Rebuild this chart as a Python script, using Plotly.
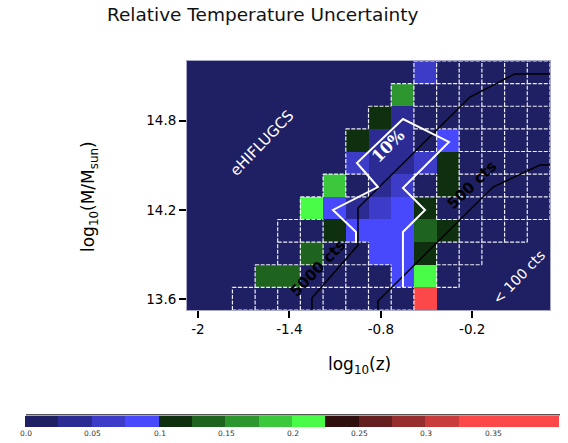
import plotly.graph_objects as go

# ---- binning (log10 z columns, log10 M rows) ----
x_edges = [-2.072, -1.923, -1.774, -1.625, -1.477, -1.328, -1.179, -1.030, -0.881,
           -0.732, -0.583, -0.434, -0.286, -0.137, 0.012, 0.161, 0.310]
y_edges = [13.528, 13.680, 13.832, 13.984, 14.136, 14.288, 14.441, 14.593, 14.745,
           14.897, 15.049, 15.201]

N = None
# relative temperature uncertainty per cell, rows from low mass (bottom) to high mass (top)
rel_unc = [
    [N, N, .012, .012, .012, .012, .012, .012, .012, .012, .36, N, N, N, N, N],
    [N, N, N, .138, .138, .012, .012, .012, .012, .088, .212, .012, N, N, N, N],
    [N, N, N, N, .012, .138, .012, .012, .088, .088, .112, .012, .012, N, N, N],
    [N, N, N, N, .012, .012, .112, .088, .088, .088, .138, .112, .012, .012, .012, N],
    [N, N, N, N, N, .212, .088, .037, .062, .088, .112, .012, .012, .012, .012, .012],
    [N, N, N, N, N, N, .188, .012, .037, .062, .012, .112, .012, .012, .012, .012],
    [N, N, N, N, N, N, N, .062, .037, .037, .062, .112, .012, .012, .012, .012],
    [N, N, N, N, N, N, N, .112, .037, .037, .012, .088, .012, .012, .012, .012],
    [N, N, N, N, N, N, N, N, .112, .037, .012, .012, .012, .012, .012, .012],
    [N, N, N, N, N, N, N, N, N, .162, .012, .012, .012, .012, .012, .012],
    [N, N, N, N, N, N, N, N, N, N, .062, .012, .012, .012, .012, .012],
]
# cells (col, row) that lie outside the survey grid
off_grid = [(10, 0)]

# colour levels, 0.025 wide each, from 0 to 0.4
level_colors = ["#1f1f63", "#2b2b93", "#3c3cc8", "#4848fc",
                "#0f300f", "#1e641e", "#2e962e", "#3cc83c", "#48fc48",
                "#300f0f", "#641e1e", "#962e2e", "#c83c3c",
                "#fc4848", "#fc4848", "#fc4848"]
cbar_ticks = [0.0, 0.05, 0.1, 0.15, 0.2, 0.25, 0.3, 0.35]
cbar_labels = ["0.0", "0.05", "0.1", "0.15", "0.2", "0.25", "0.3", "0.35"]

# count-rate contours
cts5000_x = [0.310, 0.080, -0.215, -0.281, -0.950, -0.950, -1.252, -1.252]
cts5000_y = [15.114, 15.114, 14.959, 14.892, 14.213, 13.964, 13.608, 13.521]
cts500_x = [0.310, 0.244, -0.064, -0.819, -0.819]
cts500_y = [14.502, 14.502, 14.354, 13.588, 13.521]

# outline of the 10% region
ten_x = [-0.963, -0.963, -1.114, -0.819, -0.957, -0.655, -0.353, -0.655, -0.510, -0.655, -0.655]
ten_y = [13.978, 14.052, 14.200, 14.354, 14.516, 14.811, 14.657, 14.348, 14.200, 14.052, 13.682]

FONT = "DejaVu Sans"
zmin, zmax = 0.0, 0.4

# discrete colour scale
nlev = len(level_colors)
colorscale = []
for k, c in enumerate(level_colors):
    colorscale.append([k / nlev, c])
    colorscale.append([(k + 1) / nlev, c])

nrow, ncol = len(rel_unc), len(rel_unc[0])


def val(i, j):
    if 0 <= i < ncol and 0 <= j < nrow:
        return rel_unc[j][i]
    return None


def in_grid(i, j):
    return val(i, j) is not None and (i, j) not in off_grid


def coloured(i, j):
    v = val(i, j)
    return v is not None and v >= 0.025


def draw_edge(a, b):
    return (in_grid(*a) or in_grid(*b)) and (not coloured(*a) or not coloured(*b))


gx, gy = [], []
for k in range(ncol + 1):
    for j in range(nrow):
        if draw_edge((k - 1, j), (k, j)):
            gx += [x_edges[k], x_edges[k], None]
            gy += [y_edges[j], y_edges[j + 1], None]
for k in range(nrow + 1):
    for i in range(ncol):
        if draw_edge((i, k - 1), (i, k)):
            gx += [x_edges[i], x_edges[i + 1], None]
            gy += [y_edges[k], y_edges[k], None]

# colour bar geometry (pixels in the page)
CB_LEFT, CB_RIGHT, CB_TOP, CB_H = 26, 560, 415.5, 11
CB_SHIFT = 13  # plotly places a horizontal bar this far left of its anchor
W, H = 568, 443

fig = go.Figure()
fig.add_trace(go.Heatmap(
    z=rel_unc, x=x_edges, y=y_edges, zmin=zmin, zmax=zmax,
    colorscale=colorscale, zsmooth=False, hoverinfo="skip",
    colorbar=dict(
        orientation="h", xref="container", yref="container",
        x=(CB_LEFT + CB_SHIFT) / W, xanchor="left", y=(H - CB_TOP) / H, yanchor="top",
        lenmode="pixels", len=CB_RIGHT - CB_LEFT, thickness=CB_H, xpad=0, ypad=0,
        outlinewidth=0, ticks="", showticklabels=False,
    ),
))
fig.add_trace(go.Scatter(x=gx, y=gy, mode="lines", hoverinfo="skip",
                         line=dict(color="rgba(250,250,255,0.95)", width=1.2, dash="4px,1.5px"),
                         showlegend=False, connectgaps=False))
for cx, cy in [(cts5000_x, cts5000_y), (cts500_x, cts500_y)]:
    fig.add_trace(go.Scatter(x=cx, y=cy, mode="lines", hoverinfo="skip", showlegend=False,
                             line=dict(color="black", width=1.5)))
fig.add_trace(go.Scatter(x=ten_x, y=ten_y, mode="lines", hoverinfo="skip", showlegend=False,
                         line=dict(color="white", width=2)))

annotations = [
    dict(x=-1.580, y=14.650, text="eHIFLUGCS", textangle=-46,
         font=dict(family=FONT, size=15, color="white")),
    dict(x=-0.747, y=14.630, text="<b>10%</b>", textangle=-45,
         font=dict(family="DejaVu Serif", size=16.5, color="white")),
    dict(x=-1.212, y=13.810, text="<b>5000 cts</b>", textangle=-46,
         font=dict(family=FONT, size=15, color="black")),
    dict(x=-0.202, y=14.368, text="<b>500 cts</b>", textangle=-44,
         font=dict(family=FONT, size=15, color="black")),
    dict(x=0.106, y=13.749, text="&lt; 100 cts", textangle=-46,
         font=dict(family=FONT, size=14, color="white")),
]
for a in annotations:
    a.update(xref="x", yref="y", showarrow=False, xanchor="center", yanchor="middle")

# colour bar tick labels, placed along the bar by value
for v, lab in zip(cbar_ticks, cbar_labels):
    px = CB_LEFT + (v - zmin) / (zmax - zmin) * (CB_RIGHT - CB_LEFT)
    annotations.append(dict(xref="paper", yref="paper", x=(px - 187) / 363,
                            y=(310 - (CB_TOP + CB_H + 7)) / 249, text=lab, showarrow=False,
                            xanchor="center", yanchor="middle",
                            font=dict(family=FONT, size=7.5, color="#333333")))

annotations += [
    dict(xref="paper", yref="paper", x=(359.5 - 187) / 363, y=(310 - 365) / 249,
         text="log<sub>10</sub>(z)", showarrow=False, xanchor="center", yanchor="middle",
         font=dict(family=FONT, size=17, color="black")),
    dict(xref="paper", yref="paper", x=(89 - 187) / 363, y=(310 - 197) / 249,
         text="log<sub>10</sub>(M/M<sub>sun</sub>)", textangle=-90, showarrow=False,
         xanchor="center", yanchor="middle",
         font=dict(family=FONT, size=17, color="black")),
]

axis_common = dict(showgrid=False, zeroline=False, ticks="outside", ticklen=7, tickwidth=2,
                   tickcolor="black", showline=True, linecolor="#a8a8c8", linewidth=1,
                   mirror=True, tickfont=dict(family=FONT, size=13.5, color="black"))

fig.update_layout(
    width=W, height=H,
    margin=dict(l=187, r=18, t=61, b=133),
    paper_bgcolor="white", plot_bgcolor="#1f1f63",
    title=dict(text="Relative Temperature Uncertainty", xref="container", yref="container",
               x=262.7 / W, y=1 - 15 / H, xanchor="center", yanchor="middle",
               font=dict(family=FONT, size=18.5, color="#111111")),
    xaxis=dict(range=[x_edges[0], x_edges[-1]], tickvals=[-2, -1.4, -0.8, -0.2],
               ticktext=["-2", "-1.4", "-0.8", "-0.2"], **axis_common),
    yaxis=dict(range=[y_edges[0], y_edges[-1]], tickvals=[13.6, 14.2, 14.8],
               ticktext=["13.6", "14.2", "14.8"], **axis_common),
    annotations=annotations,
    shapes=[dict(type="line", xref="paper", yref="paper",
                 x0=(CB_LEFT - 187) / 363, x1=(CB_RIGHT - 187) / 363,
                 y0=(310 - CB_TOP + 0.8) / 249, y1=(310 - CB_TOP + 0.8) / 249,
                 line=dict(color="#555555", width=1.5))],
    showlegend=False,
)

fig.write_html("out.html")
